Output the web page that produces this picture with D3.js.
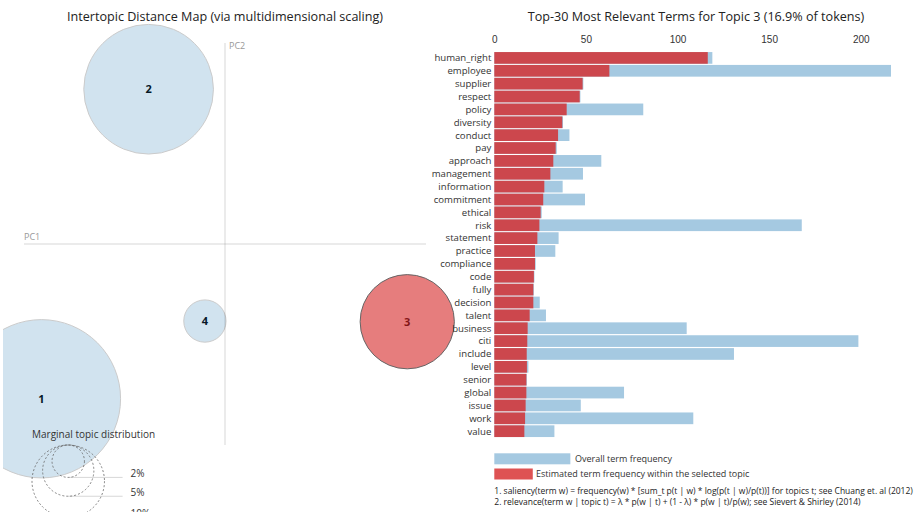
<!DOCTYPE html>
<html>
<head>
<meta charset="utf-8">
<script src="https://cdn.jsdelivr.net/npm/d3@7"></script>
<style>
  body { margin: 0; background: #fff; }
  svg { font-family: "Open Sans", "Noto Sans", sans-serif; display: block; }
</style>
</head>
<body>
<div id="chart"></div>
<script>
// topics on the intertopic distance map
const topicIds = [1, 2, 3, 4];
const topicPC1 = [-0.274, -0.114, 0.272, -0.030];
const topicPC2 = [-0.231, 0.231, -0.116, -0.115];
const topicPct = [47.7, 32.0, 16.9, 3.4];
const selectedTopic = 3;

// top-30 terms for topic 3
const terms = ['human_right', 'employee', 'supplier', 'respect', 'policy', 'diversity', 'conduct', 'pay',
  'approach', 'management', 'information', 'commitment', 'ethical', 'risk', 'statement', 'practice',
  'compliance', 'code', 'fully', 'decision', 'talent', 'business', 'citi', 'include', 'level', 'senior',
  'global', 'issue', 'work', 'value'];
const overallFreq = [119, 216.5, 48.6, 47.0, 81.3, 37.5, 41.0, 34.1, 58.4, 48.4, 37.3, 49.5, 25.9, 167.8,
  35.1, 33.3, 22.6, 21.9, 21.6, 24.8, 28.2, 105, 198.7, 130.8, 18.6, 17.8, 70.8, 47.2, 108.6, 32.8];
const topicFreq = [116.5, 62.8, 48.2, 46.6, 39.5, 37.1, 34.8, 33.5, 32.2, 30.6, 27.3, 26.7, 25.3, 24.6,
  23.5, 22.2, 22.2, 21.6, 21.3, 21.3, 19.3, 18.2, 18.0, 17.7, 17.8, 17.5, 17.5, 17.1, 16.8, 16.4];

const legendPcts = [2, 5, 10];

const blue = '#1f77b4', red = '#d62728';
const width = 921, height = 512;

const svg = d3.select('#chart').append('svg')
  .attr('width', width).attr('height', height);

// ---- left panel: intertopic distance map
const mds = { left: 24, right: 426, top: 43, bottom: 445 };
const xScale = d3.scaleLinear().domain([-0.3, 0.3]).range([mds.left, mds.right]);
const yScale = d3.scaleLinear().domain([-0.3, 0.3]).range([mds.bottom, mds.top]);
const rScale = d3.scaleSqrt().domain([0, 100]).range([0, 114.6]);

svg.append('defs').append('clipPath').attr('id', 'leftclip')
  .append('rect').attr('x', 3).attr('y', 0).attr('width', 470).attr('height', height);

svg.append('text')
  .attr('x', 225).attr('y', 21)
  .attr('text-anchor', 'middle')
  .style('font-size', '12.6px').attr('fill', '#222')
  .text('Intertopic Distance Map (via multidimensional scaling)');

svg.append('line')
  .attr('x1', mds.left).attr('x2', mds.right)
  .attr('y1', yScale(0)).attr('y2', yScale(0))
  .attr('stroke', 'gray').attr('opacity', 0.3);
svg.append('line')
  .attr('x1', xScale(0)).attr('x2', xScale(0))
  .attr('y1', mds.top).attr('y2', mds.bottom)
  .attr('stroke', 'gray').attr('opacity', 0.3);
svg.append('text').attr('x', mds.left).attr('y', yScale(0) - 4)
  .style('font-size', '9px').attr('fill', '#999').text('PC1');
svg.append('text').attr('x', xScale(0) + 4).attr('y', mds.top + 6)
  .style('font-size', '9px').attr('fill', '#999').text('PC2');

const topics = topicIds.map((id, i) => ({ id, x: topicPC1[i], y: topicPC2[i], pct: topicPct[i] }));
const map = svg.append('g').attr('clip-path', 'url(#leftclip)');

map.selectAll('text.tlabel').data(topics).join('text')
  .attr('class', 'tlabel')
  .attr('x', d => xScale(d.x)).attr('y', d => yScale(d.y) + 4)
  .attr('text-anchor', 'middle')
  .style('font-size', '11px').style('font-weight', 'bold')
  .attr('fill', '#000')
  .text(d => d.id);

map.selectAll('circle.topic').data(topics).join('circle')
  .attr('class', 'topic')
  .attr('cx', d => xScale(d.x)).attr('cy', d => yScale(d.y))
  .attr('r', d => rScale(d.pct))
  .attr('fill', d => d.id === selectedTopic ? red : blue)
  .attr('stroke', 'black')
  .attr('opacity', d => d.id === selectedTopic ? 0.6 : 0.2);

// marginal topic distribution guide
const rLarge = rScale(legendPcts[2]);
const cx = 32 + rLarge, cx2 = cx + 1.5 * rLarge;
svg.append('text').attr('x', 32).attr('y', mds.bottom - 7)
  .style('font-size', '10px').attr('fill', '#333')
  .text('Marginal topic distribution');
const guide = svg.append('g');
legendPcts.forEach(p => {
  const r = rScale(p);
  guide.append('circle')
    .attr('cx', cx).attr('cy', mds.bottom + r).attr('r', r)
    .attr('fill', 'none').attr('stroke', '#666')
    .attr('stroke-dasharray', '2 2').attr('stroke-width', 0.8);
  guide.append('line')
    .attr('x1', cx).attr('x2', cx2)
    .attr('y1', mds.bottom + 2 * r).attr('y2', mds.bottom + 2 * r)
    .attr('stroke', 'gray').attr('opacity', 0.3);
  guide.append('text')
    .attr('x', cx2 + 8).attr('y', mds.bottom + 2 * r)
    .style('font-size', '10px').attr('fill', '#333')
    .text(p + '%');
});

// ---- right panel: bar chart of terms
const barLeft = 494.3;
const x = d3.scaleLinear().domain([0, d3.max(overallFreq)]).range([barLeft, 891]);
const y = d3.scaleBand().domain(terms).range([50.9, 438.2]).padding(0.09);

svg.append('text')
  .attr('x', 696).attr('y', 21)
  .attr('text-anchor', 'middle')
  .style('font-size', '12.6px').attr('fill', '#222')
  .text('Top-30 Most Relevant Terms for Topic 3 (16.9% of tokens)');

const xAxis = svg.append('g')
  .attr('transform', 'translate(0,43)')
  .call(d3.axisTop(x).ticks(6).tickSize(0).tickPadding(0));
xAxis.select('.domain').remove();
xAxis.selectAll('text').style('font-size', '10px').style('font-family', 'inherit').attr('fill', '#333');

const rows = terms.map((t, i) => ({ term: t, total: overallFreq[i], freq: topicFreq[i] }));

svg.append('g').selectAll('rect').data(rows).join('rect')
  .attr('x', barLeft).attr('y', d => y(d.term))
  .attr('width', d => x(d.total) - barLeft).attr('height', y.bandwidth())
  .attr('fill', blue).attr('opacity', 0.4);

svg.append('g').selectAll('rect').data(rows).join('rect')
  .attr('x', barLeft).attr('y', d => y(d.term))
  .attr('width', d => x(d.freq) - barLeft).attr('height', y.bandwidth())
  .attr('fill', red).attr('opacity', 0.8);

svg.append('g').selectAll('text').data(rows).join('text')
  .attr('x', barLeft - 3).attr('y', d => y(d.term) + y.bandwidth() / 2)
  .attr('dy', '0.35em').attr('text-anchor', 'end')
  .style('font-size', '9.6px').attr('fill', '#333')
  .text(d => d.term);

// legend
const leg = svg.append('g');
leg.append('rect').attr('x', barLeft).attr('y', 453.3)
  .attr('width', x(41.5) - barLeft).attr('height', 11)
  .attr('fill', blue).attr('opacity', 0.4);
leg.append('text').attr('x', 575).attr('y', 458.8).attr('dy', '0.35em')
  .style('font-size', '9px').attr('fill', '#333').text('Overall term frequency');
leg.append('rect').attr('x', barLeft).attr('y', 468.5)
  .attr('width', x(21) - barLeft).attr('height', 11)
  .attr('fill', red).attr('opacity', 0.8);
leg.append('text').attr('x', 536).attr('y', 474).attr('dy', '0.35em')
  .style('font-size', '9px').attr('fill', '#333').text('Estimated term frequency within the selected topic');

const notes = [
  '1. saliency(term w) = frequency(w) * [sum_t p(t | w) * log(p(t | w)/p(t))] for topics t; see Chuang et. al (2012)',
  '2. relevance(term w | topic t) = \u03bb * p(w | t) + (1 - \u03bb) * p(w | t)/p(w); see Sievert & Shirley (2014)'
];
leg.selectAll('text.note').data(notes).join('text')
  .attr('class', 'note')
  .attr('x', barLeft).attr('y', (d, i) => 490.7 + i * 11.8).attr('dy', '0.35em')
  .style('font-size', '8.5px').attr('fill', '#222')
  .text(d => d);
</script>
</body>
</html>
